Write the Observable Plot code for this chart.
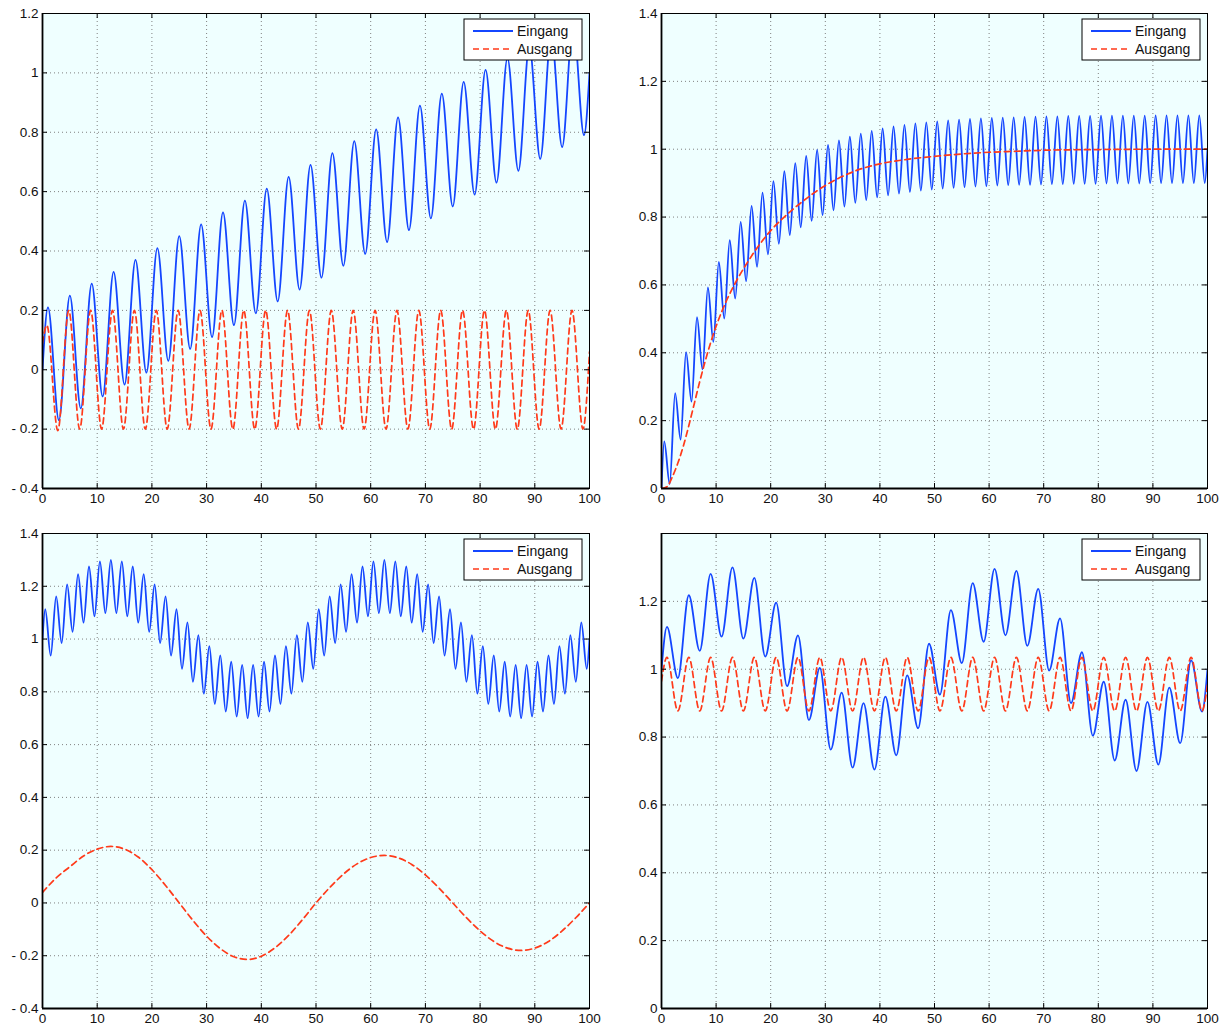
<!DOCTYPE html>
<html><head><meta charset="utf-8">
<script src="https://cdn.jsdelivr.net/npm/d3@7"></script>
<script src="https://cdn.jsdelivr.net/npm/@observablehq/plot@0.6"></script>
<style>
body{margin:0;background:#fff;}
#wrap{position:relative;width:1226px;height:1030px;background:#fff;}
.panel{position:absolute;}
</style></head><body><div id="wrap"></div>
<script>
// ---------- tick labels ----------
const xTicks = [0,10,20,30,40,50,60,70,80,90,100];
const yTicksTL = [-0.4,-0.2,0,0.2,0.4,0.6,0.8,1,1.2];
const yTicksTR = [0,0.2,0.4,0.6,0.8,1,1.2,1.4];
const yTicksBL = [-0.4,-0.2,0,0.2,0.4,0.6,0.8,1,1.2,1.4];
const yTicksBR = [0,0.2,0.4,0.6,0.8,1,1.2];
const legendLabels = ["Eingang","Ausgang"];

// ---------- top-left: Eingang (extrema) ----------
const tlEinPeakT = [1,5,9,13,17,21,25,29,33,37,41,45,49,53,57,61,65,69,73,77,81,85,89,93,97];
const tlEinPeakY = [0.21,0.25,0.29,0.33,0.37,0.41,0.45,0.49,0.53,0.57,0.61,0.65,0.69,0.73,0.77,0.81,0.85,0.89,0.93,0.97,1.01,1.05,1.09,1.13,1.17];
const tlEinTroughT = [3,7,11,15,19,23,27,31,35,39,43,47,51,55,59,63,67,71,75,79,83,87,91,95,99];
const tlEinTroughY = [-0.17,-0.13,-0.09,-0.05,-0.01,0.03,0.07,0.11,0.15,0.19,0.23,0.27,0.31,0.35,0.39,0.43,0.47,0.51,0.55,0.59,0.63,0.67,0.71,0.75,0.79];
const tlEinEndT = [0,100];
const tlEinEndY = [0,1.0];
// top-left: Ausgang
const tlAusPeakT = [0.8,4.8,8.8,12.8,16.8,20.8,24.8,28.8,32.8,36.8,40.8,44.8,48.8,52.8,56.8,60.8,64.8,68.8,72.8,76.8,80.8,84.8,88.8,92.8,96.8];
const tlAusPeakY = [0.15,0.2,0.2,0.2,0.2,0.2,0.2,0.2,0.2,0.2,0.2,0.2,0.2,0.2,0.2,0.2,0.2,0.2,0.2,0.2,0.2,0.2,0.2,0.2,0.2];
const tlAusTroughT = [2.8,6.8,10.8,14.8,18.8,22.8,26.8,30.8,34.8,38.8,42.8,46.8,50.8,54.8,58.8,62.8,66.8,70.8,74.8,78.8,82.8,86.8,90.8,94.8,98.8];
const tlAusTroughY = [-0.205,-0.2,-0.2,-0.2,-0.2,-0.2,-0.2,-0.2,-0.2,-0.2,-0.2,-0.2,-0.2,-0.2,-0.2,-0.2,-0.2,-0.2,-0.2,-0.2,-0.2,-0.2,-0.2,-0.2,-0.2];
const tlAusEndT = [0,100];
const tlAusEndY = [0.09,0.06];

// ---------- top-right: Eingang ----------
const trEinPeakT = [0.5,2.5,4.5,6.5,8.5,10.5,12.5,14.5,16.5,18.5,20.5,22.5,24.5,26.5,28.5,30.5,32.5,34.5,36.5,38.5,40.5,42.5,44.5,46.5,48.5,50.5,52.5,54.5,56.5,58.5,60.5,62.5,64.5,66.5,68.5,70.5,72.5,74.5,76.5,78.5,80.5,82.5,84.5,86.5,88.5,90.5,92.5,94.5,96.5,98.5];
const trEinPeakY = [0.139,0.281,0.402,0.505,0.593,0.668,0.732,0.786,0.833,0.872,0.906,0.935,0.959,0.980,0.998,1.013,1.026,1.037,1.046,1.054,1.061,1.067,1.072,1.076,1.079,1.082,1.085,1.087,1.089,1.091,1.092,1.093,1.094,1.095,1.096,1.097,1.097,1.098,1.098,1.098,1.099,1.099,1.099,1.099,1.099,1.1,1.1,1.1,1.1,1.1];
const trEinTroughT = [1.5,3.5,5.5,7.5,9.5,11.5,13.5,15.5,17.5,19.5,21.5,23.5,25.5,27.5,29.5,31.5,33.5,35.5,37.5,39.5,41.5,43.5,45.5,47.5,49.5,51.5,53.5,55.5,57.5,59.5,61.5,63.5,65.5,67.5,69.5,71.5,73.5,75.5,77.5,79.5,81.5,83.5,85.5,87.5,89.5,91.5,93.5,95.5,97.5,99.5];
const trEinTroughY = [0.013,0.144,0.256,0.351,0.432,0.501,0.560,0.611,0.653,0.690,0.721,0.747,0.770,0.789,0.806,0.820,0.831,0.842,0.850,0.858,0.864,0.869,0.874,0.878,0.881,0.884,0.886,0.888,0.890,0.891,0.893,0.894,0.895,0.895,0.896,0.897,0.897,0.898,0.898,0.898,0.899,0.899,0.899,0.899,0.9,0.9,0.9,0.9,0.9,0.9];
const trEinEndT = [0,100];
const trEinEndY = [0,1.0];
// top-right: Ausgang
const trAusT = [0,1,2,3,4,5,6,7,8,9,10,12,14,16,18,20,22,24,26,28,30,32,34,36,38,40,45,50,55,60,65,70,80,90,100];
const trAusY = [0,0.005,0.035,0.075,0.125,0.185,0.25,0.315,0.375,0.43,0.478,0.557,0.62,0.673,0.72,0.76,0.793,0.822,0.848,0.872,0.893,0.911,0.926,0.939,0.949,0.957,0.970,0.979,0.986,0.991,0.994,0.997,0.999,1.0,1.0];

// ---------- bottom-left: Eingang ----------
const blEinPeakT = trEinPeakT.slice();
const blEinPeakY = [1.113,1.162,1.207,1.246,1.275,1.294,1.3,1.294,1.275,1.246,1.207,1.162,1.113,1.063,1.015,0.973,0.938,0.914,0.902,0.902,0.914,0.938,0.973,1.015,1.063,
                    1.113,1.162,1.207,1.246,1.275,1.294,1.3,1.294,1.275,1.246,1.207,1.162,1.113,1.063,1.015,0.973,0.938,0.914,0.902,0.902,0.914,0.938,0.973,1.015,1.063];
const blEinTroughT = trEinTroughT.slice();
const blEinTroughY = [0.937,0.985,1.027,1.062,1.086,1.098,1.098,1.086,1.062,1.027,0.985,0.937,0.887,0.838,0.793,0.754,0.725,0.706,0.7,0.706,0.725,0.754,0.793,0.838,0.887,
                      0.937,0.985,1.027,1.062,1.086,1.098,1.098,1.086,1.062,1.027,0.985,0.937,0.887,0.838,0.793,0.754,0.725,0.706,0.7,0.706,0.725,0.754,0.793,0.838,0.887];
const blEinEndT = [0,100];
const blEinEndY = [1.0,1.0];
// bottom-left: Ausgang
const blAusT = [0,2.5,5,7.5,10,12.5,15,17.5,20,22.5,25,27.5,30,32.5,35,37.5,40,42.5,45,47.5,50,52.5,55,57.5,60,62.5,65,67.5,70,72.5,75,77.5,80,82.5,85,87.5,90,92.5,95,97.5,100];
const blAusY = [0.04,0.095,0.137,0.178,0.204,0.214,0.204,0.174,0.126,0.066,0.0,-0.066,-0.126,-0.173,-0.204,-0.214,-0.202,-0.170,-0.123,-0.064,0.0,0.058,0.109,0.148,0.172,0.18,0.171,0.146,0.106,0.056,0.0,-0.056,-0.106,-0.146,-0.171,-0.18,-0.171,-0.146,-0.106,-0.056,0.0];

// ---------- bottom-right: Eingang ----------
const brEinT = [0,1,3,5,7,9,11,13,15,17,19,21,23,25,27,29,31,33,35,37,39,41,43,45,47,49,51,53,55,57,59,61,63,65,67,69,71,73,75,77,79,81,83,85,87,89,91,93,95,97,99,100];
const brEinY = [1.0,1.125,0.974,1.218,1.054,1.281,1.096,1.300,1.090,1.269,1.037,1.196,0.950,1.1,0.850,1.004,0.763,0.931,0.710,0.900,0.704,0.919,0.746,0.982,0.826,1.075,0.925,1.174,1.018,1.254,1.081,1.296,1.100,1.290,1.069,1.237,0.996,1.150,0.9,1.050,0.804,0.963,0.731,0.910,0.700,0.904,0.719,0.946,0.782,1.026,0.875,1.0];
// bottom-right: Ausgang
const brAusPeakT = tlEinPeakT.slice();
const brAusPeakY = [1.035,1.035,1.035,1.035,1.035,1.035,1.035,1.035,1.035,1.035,1.035,1.035,1.035,1.035,1.035,1.035,1.035,1.035,1.035,1.035,1.035,1.035,1.035,1.035,1.035];
const brAusTroughT = tlEinTroughT.slice();
const brAusTroughY = [0.877,0.877,0.877,0.877,0.877,0.877,0.877,0.877,0.877,0.877,0.877,0.877,0.877,0.877,0.877,0.877,0.877,0.877,0.877,0.877,0.877,0.877,0.877,0.877,0.877];
const brAusEndT = [0,100];
const brAusEndY = [0.965,0.956];

// ---------- helpers ----------
function rows(...pairs) {
  const out = [];
  for (let i = 0; i < pairs.length; i += 2) {
    const T = pairs[i], Y = pairs[i + 1];
    T.forEach((t, j) => out.push({t, v: Y[j]}));
  }
  return out.sort((a, b) => a.t - b.t);
}
const fmt = d => (d < 0 ? "- " : "") + String(+Math.abs(d).toFixed(1));
const FONT = '"Liberation Sans", Arial, Helvetica, sans-serif';
const BLUE = "#1446ff", RED = "#ff3a1a";
const DASH = "6,4";

function panel({ein, aus, yDomain, yTicks, left, top, mL, mR, mT, mB}) {
  const W = 613, H = 515;
  const [y0, y1] = yDomain;
  const fw = W - mL - mR, fh = H - mT - mB;
  const tx = 100 * 5 / fw, ty = (y1 - y0) * 5 / fh;
  const grid = {stroke: "#808080", strokeOpacity: 1, strokeWidth: 1, strokeDasharray: "1,3"};
  const plot = Plot.plot({
    width: W, height: H, marginLeft: mL, marginRight: mR, marginTop: mT, marginBottom: mB,
    style: {background: "transparent", fontFamily: FONT, fontSize: "13.5px", color: "#000", overflow: "visible"},
    x: {domain: [0, 100], label: null},
    y: {domain: yDomain, label: null},
    marks: [
      Plot.frame({fill: "#efffff", stroke: null}),
      Plot.gridX(xTicks, grid),
      Plot.gridY(yTicks, grid),
      Plot.line(ein, {x: "t", y: "v", curve: "monotone-x", stroke: BLUE, strokeWidth: 1.8, clip: true}),
      Plot.line(aus, {x: "t", y: "v", curve: "monotone-x", stroke: RED, strokeWidth: 1.7, strokeDasharray: DASH, clip: true}),
      Plot.ruleX(xTicks, {x: d => d, y1: y0, y2: y0 + ty, stroke: "#000"}),
      Plot.ruleX(xTicks, {x: d => d, y1: y1 - ty, y2: y1, stroke: "#000"}),
      Plot.ruleY(yTicks, {y: d => d, x1: 0, x2: tx, stroke: "#000"}),
      Plot.ruleY(yTicks, {y: d => d, x1: 100 - tx, x2: 100, stroke: "#000"}),
      Plot.frame({stroke: "#000", strokeWidth: 1}),
      Plot.ruleX([0], {stroke: "#000", strokeWidth: 1.8}),
      Plot.ruleY([y0], {stroke: "#000", strokeWidth: 1.8}),
      Plot.axisX(xTicks, {tickSize: 0, tickPadding: 5, tickFormat: fmt, fontSize: 13.5, fill: "#111"}),
      Plot.axisY(yTicks, {tickSize: 0, tickPadding: 4, tickFormat: fmt, fontSize: 13.5, fill: "#111"})
    ]
  });
  // legend box (top-right inside the axes)
  const svg = d3.select(plot);
  const bw = 118, bh = 41;
  const bx = W - mR - 7 - bw, by = mT + 6;
  const g = svg.append("g").attr("font-family", FONT).attr("font-size", 14).attr("text-anchor", "start");
  g.append("rect").attr("x", bx).attr("y", by).attr("width", bw).attr("height", bh)
    .attr("fill", "#fff").attr("stroke", "#000").attr("stroke-width", 1);
  const styles = [{stroke: BLUE, dash: null, w: 1.8}, {stroke: RED, dash: DASH, w: 1.7}];
  legendLabels.forEach((lab, i) => {
    const cy = by + 12 + i * 18;
    g.append("line").attr("x1", bx + 9).attr("x2", bx + 49).attr("y1", cy).attr("y2", cy)
      .attr("stroke", styles[i].stroke).attr("stroke-width", styles[i].w)
      .attr("stroke-dasharray", styles[i].dash);
    g.append("text").attr("x", bx + 53).attr("y", cy).attr("dy", "0.36em")
      .attr("text-anchor", "start").attr("fill", "#111").text(lab);
  });
  const div = document.createElement("div");
  div.className = "panel";
  div.style.left = left + "px";
  div.style.top = top + "px";
  div.appendChild(plot);
  document.getElementById("wrap").appendChild(div);
}

panel({
  ein: rows(tlEinPeakT, tlEinPeakY, tlEinTroughT, tlEinTroughY, tlEinEndT, tlEinEndY),
  aus: rows(tlAusPeakT, tlAusPeakY, tlAusTroughT, tlAusTroughY, tlAusEndT, tlAusEndY),
  yDomain: [-0.4, 1.2], yTicks: yTicksTL, left: 0, top: 0, mL: 42, mR: 24, mT: 13, mB: 27
});
panel({
  ein: rows(trEinPeakT, trEinPeakY, trEinTroughT, trEinTroughY, trEinEndT, trEinEndY),
  aus: rows(trAusT, trAusY),
  yDomain: [0, 1.4], yTicks: yTicksTR, left: 613, top: 0, mL: 48, mR: 19, mT: 13, mB: 27
});
panel({
  ein: rows(blEinPeakT, blEinPeakY, blEinTroughT, blEinTroughY, blEinEndT, blEinEndY),
  aus: rows(blAusT, blAusY),
  yDomain: [-0.4, 1.4], yTicks: yTicksBL, left: 0, top: 515, mL: 42, mR: 24, mT: 18, mB: 22
});
panel({
  ein: rows(brEinT, brEinY),
  aus: rows(brAusPeakT, brAusPeakY, brAusTroughT, brAusTroughY, brAusEndT, brAusEndY),
  yDomain: [0, 1.4], yTicks: yTicksBR, left: 613, top: 515, mL: 48, mR: 19, mT: 18, mB: 22
});
</script></body></html>
